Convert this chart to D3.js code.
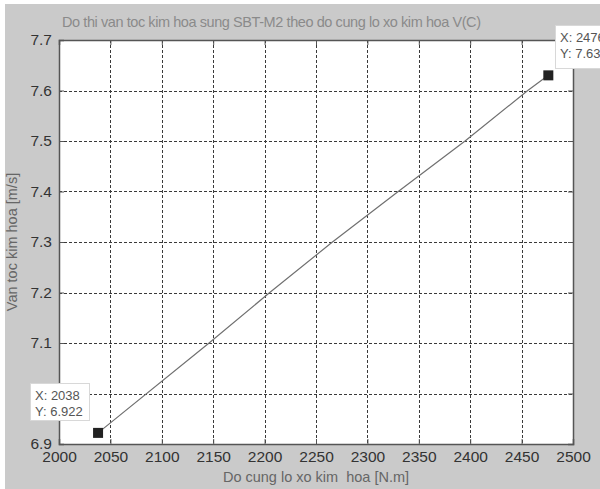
<!DOCTYPE html>
<html><head><meta charset="utf-8">
<script src="https://cdn.jsdelivr.net/npm/d3@7"></script>
<style>html,body{margin:0;padding:0;background:#fff;}svg{display:block;}</style>
</head><body>
<svg id="c" width="600" height="489"></svg>
<script>
const title = "Do thi van toc kim hoa sung SBT-M2 theo do cung lo xo kim hoa V(C)";
const xLabel = "Do cung lo xo kim  hoa [N.m]";
const yLabel = "Van toc kim hoa [m/s]";
const xTicks = [2000,2050,2100,2150,2200,2250,2300,2350,2400,2450,2500];
const yTicks = [6.9,7.0,7.1,7.2,7.3,7.4,7.5,7.6,7.7];
const stiffness = [2038, 2146, 2205, 2266, 2330, 2395, 2456, 2476];
const velocity  = [6.922, 7.1, 7.2, 7.3, 7.4, 7.5, 7.6, 7.63];
const markedX = [2038, 2476];
const markedY = [6.922, 7.63];
const markLabels = [["X: 2038","Y: 6.922"],["X: 2476","Y: 7.63"]];

const svg = d3.select("#c");
const font = "'Liberation Sans', Arial, sans-serif";
svg.append("rect").attr("x",5).attr("y",4).attr("width",595).attr("height",485).attr("fill","#cacaca");

const L=59,R=573,T=40,B=444;
const x = d3.scaleLinear().domain([2000,2500]).range([L,R]);
const y = d3.scaleLinear().domain([6.9,7.7]).range([B,T]);

svg.append("rect").attr("x",L).attr("y",T).attr("width",R-L).attr("height",B-T).attr("fill","#fff");

// grid
const g = svg.append("g");
g.selectAll(".gx").data(xTicks.slice(1,-1)).join("line")
 .attr("x1",d=>Math.round(x(d))+0.5).attr("x2",d=>Math.round(x(d))+0.5).attr("y1",T).attr("y2",B)
 .attr("stroke","#3a3a3a").attr("stroke-width",1).attr("stroke-dasharray","3,2");
g.selectAll(".gy").data(yTicks.slice(1,-1)).join("line")
 .attr("y1",d=>Math.round(y(d))+0.5).attr("y2",d=>Math.round(y(d))+0.5).attr("x1",L).attr("x2",R)
 .attr("stroke","#3a3a3a").attr("stroke-width",1).attr("stroke-dasharray","3,2");

// axes
const tf = d3.format(".1f");
const axB = svg.append("g").attr("transform",`translate(0,${B})`)
 .call(d3.axisBottom(x).tickValues(xTicks).tickSize(-5).tickPadding(9).tickFormat(d3.format("d")));
const axT = svg.append("g").attr("transform",`translate(0,${T})`)
 .call(d3.axisTop(x).tickValues(xTicks).tickSize(-5).tickFormat(""));
const axL = svg.append("g").attr("transform",`translate(${L},0)`)
 .call(d3.axisLeft(y).tickValues(yTicks).tickSize(-5).tickPadding(7).tickFormat(tf));
const axR = svg.append("g").attr("transform",`translate(${R},0)`)
 .call(d3.axisRight(y).tickValues(yTicks).tickSize(-5).tickFormat(""));
[axB,axT,axL,axR].forEach(a=>{
  a.selectAll("path").attr("stroke","#555").attr("stroke-width",1.5);
  a.selectAll("line").attr("stroke","#555");
  a.selectAll("text").attr("fill","#333").attr("font-family",font).attr("font-size","15.5px");
});
axB.selectAll("text").attr("dy","0.55em");

// line
const pts = stiffness.map((s,i)=>[s,velocity[i]]);
svg.append("path").datum(pts)
 .attr("d", d3.line().x(d=>x(d[0])).y(d=>y(d[1])))
 .attr("fill","none").attr("stroke","#707070").attr("stroke-width",1.2);

// markers
svg.selectAll(".mk").data(markedX.map((v,i)=>[v,markedY[i]])).join("rect")
 .attr("x",d=>x(d[0])-5).attr("y",d=>y(d[1])-5).attr("width",10).attr("height",10).attr("fill","#222");

// data tip boxes
const boxes = [{bx:30,by:383,bw:59,bh:37},{bx:555,by:25,bw:60,bh:43}];
boxes.forEach((b,i)=>{
  svg.append("rect").attr("x",b.bx+0.5).attr("y",b.by+0.5).attr("width",b.bw).attr("height",b.bh)
    .attr("fill","#fff").attr("stroke","#d8d8d8");
  markLabels[i].forEach((t,j)=>{
    svg.append("text").attr("x",b.bx+5).attr("y",b.by+17 + j*16)
      .attr("font-family",font).attr("font-size","13px").attr("fill","#555").text(t);
  });
});

// titles
svg.append("text").attr("x",62).attr("y",27).attr("font-family",font).attr("font-size","14.5px")
 .attr("fill","#8a8a8a").attr("textLength",419).text(title);
svg.append("text").attr("x",(L+R)/2).attr("y",482).attr("text-anchor","middle")
 .attr("font-family",font).attr("font-size","14.5px").attr("fill","#666").attr("xml:space","preserve").style("white-space","pre").text(xLabel);
svg.append("text").attr("transform",`translate(17,${(T+B)/2}) rotate(-90)`).attr("text-anchor","middle")
 .attr("font-family",font).attr("font-size","14.5px").attr("fill","#666").text(yLabel);
</script>
</body></html>
